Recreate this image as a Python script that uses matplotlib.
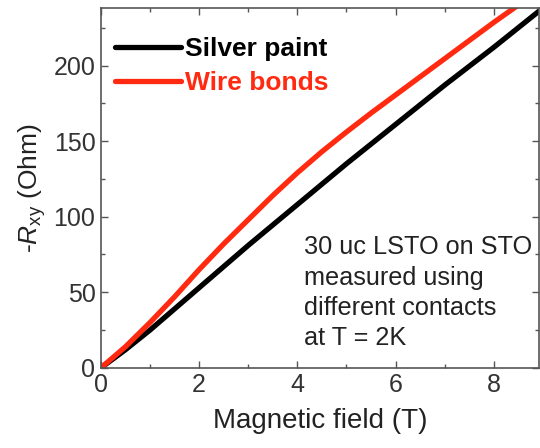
import matplotlib
matplotlib.use("Agg")
import matplotlib.pyplot as plt
from matplotlib.ticker import MultipleLocator

field = [0, 0.5, 1, 1.5, 2, 2.5, 3, 3.5, 4, 4.5, 5, 5.5, 6, 6.5, 7, 7.5, 8, 8.5, 9]
silver_paint = [0, 12, 25, 39, 53, 67, 81, 94.5, 108, 121.5, 135, 148, 161, 174, 187, 199.5, 212, 225, 238]
wire_bonds = [0, 14, 30, 47, 65, 82, 98, 114, 129, 143, 156, 168.5, 180.5, 192.5, 204.5, 216.5, 228.5, 240, 251]

xticks = [0, 2, 4, 6, 8]
yticks = [0, 50, 100, 150, 200]

plt.rcParams['font.family'] = ['Liberation Sans', 'DejaVu Sans']
plt.rcParams['mathtext.fontset'] = 'custom'
plt.rcParams['mathtext.it'] = 'Liberation Sans:italic'
plt.rcParams['mathtext.rm'] = 'Liberation Sans'

fig = plt.figure(figsize=(5.4, 4.48), dpi=100)
ax = fig.add_axes([0.187, 0.179, 0.811, 0.803])

red = '#ff2a10'
ax.plot(field, silver_paint, color='black', lw=3.8, label='Silver paint', solid_capstyle='round')
ax.plot(field, wire_bonds, color=red, lw=3.8, label='Wire bonds', solid_capstyle='round')

ax.set_xlim(0, 8.92)
ax.set_ylim(0, 238)
ax.set_xticks(xticks)
ax.set_yticks(yticks)
ax.xaxis.set_minor_locator(MultipleLocator(1))
ax.yaxis.set_minor_locator(MultipleLocator(25))
ax.tick_params(which='both', direction='in', top=True, right=True, color='#555555',
               labelsize=18, labelcolor='#333333', pad=4)
ax.tick_params(which='major', length=5, width=1)
ax.tick_params(which='minor', length=3, width=1)
for s in ax.spines.values():
    s.set_color('#555555')
    s.set_linewidth(1.2)

ax.set_xlabel('Magnetic field (T)', fontsize=20, color='#222222', labelpad=8)
ax.set_ylabel(r'-$R_{\mathregular{xy}}$ (Ohm)', fontsize=19, color='#222222', labelpad=4)

leg = ax.legend(loc='upper left', bbox_to_anchor=(0.007, 0.948), frameon=False,
                prop={'weight': 'bold', 'size': 19},
                handlelength=2.5, handletextpad=0.15, borderaxespad=0.0, labelspacing=0.36,
                borderpad=0.4)
for t, c in zip(leg.get_texts(), ['black', red]):
    t.set_color(c)

ax.text(0.463, 0.368, '30 uc LSTO on STO\nmeasured using\ndifferent contacts\nat T = 2K',
        transform=ax.transAxes, fontsize=18.2, color='#222222', va='top', ha='left',
        linespacing=1.33)

fig.savefig('out.png', dpi=100)
